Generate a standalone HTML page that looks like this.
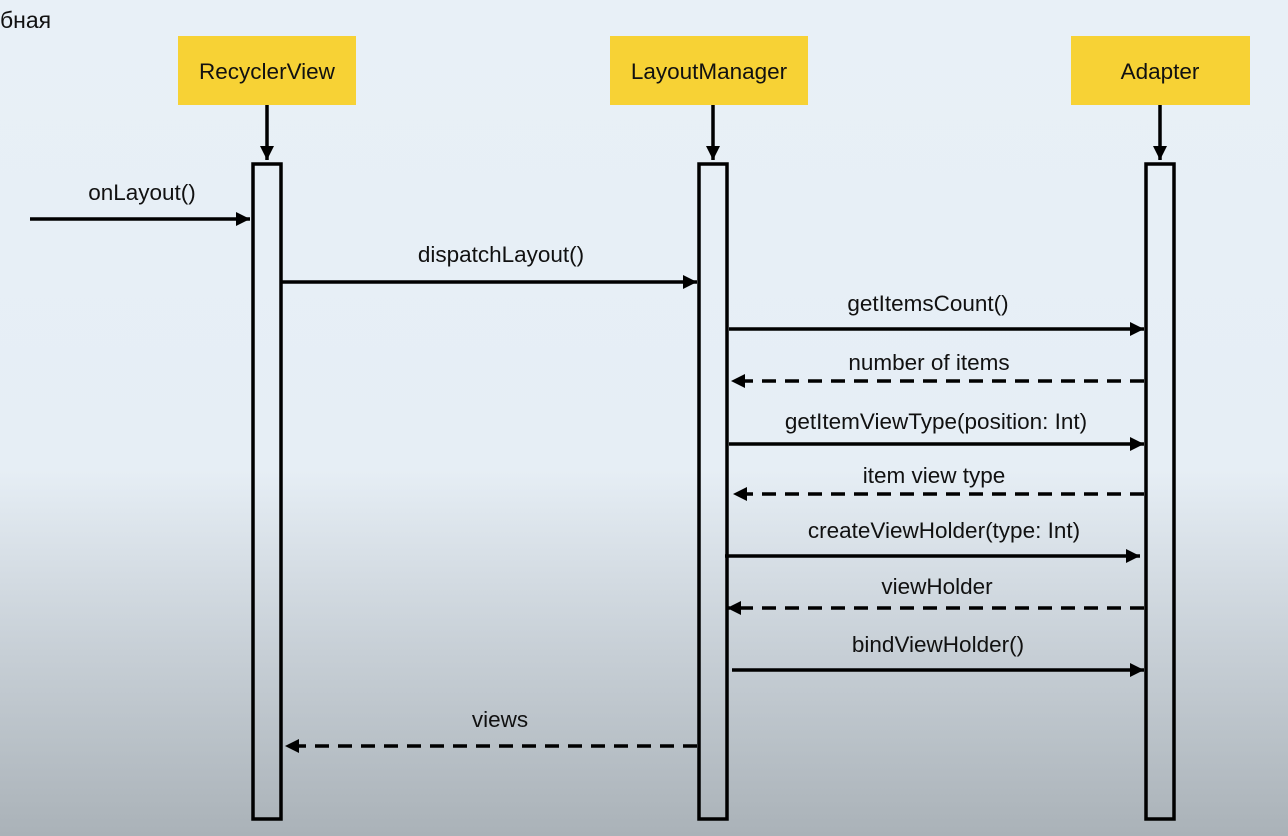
<!DOCTYPE html>
<html><head><meta charset="utf-8"><style>
html,body{margin:0;padding:0}
body{width:1288px;height:836px;overflow:hidden;background:linear-gradient(to bottom,#e8f0f7 0px,#e6eef5 470px,#c9d1d8 640px,#aab2b8 836px);font-family:"Liberation Sans","DejaVu Sans",sans-serif}
</style></head><body>
<svg width="1288" height="836" xmlns="http://www.w3.org/2000/svg" style="position:absolute;left:0;top:0">
<defs>
<marker id="a" viewBox="0 0 10 10" refX="10" refY="5" markerWidth="4" markerHeight="4" orient="auto-start-reverse" markerUnits="strokeWidth"><path d="M0,0L10,5L0,10z" fill="#000"/></marker>
</defs>
<g font-family="Liberation Sans, DejaVu Sans, sans-serif" font-size="22.5" fill="#111" text-anchor="middle">
<text x="0" y="28" text-anchor="start" font-size="23">бная</text>
<rect x="178" y="36" width="178" height="69" fill="#f7d235"/>
<rect x="610" y="36" width="198" height="69" fill="#f7d235"/>
<rect x="1071" y="36" width="179" height="69" fill="#f7d235"/>
<text x="267" y="79">RecyclerView</text>
<text x="709" y="79">LayoutManager</text>
<text x="1160" y="79">Adapter</text>
</g>
<g stroke="#000" stroke-width="3.5" fill="none">
<line x1="267" y1="105" x2="267" y2="160" marker-end="url(#a)"/>
<line x1="713" y1="105" x2="713" y2="160" marker-end="url(#a)"/>
<line x1="1160" y1="105" x2="1160" y2="160" marker-end="url(#a)"/>
<rect x="253" y="164" width="28" height="655"/>
<rect x="699" y="164" width="28" height="655"/>
<rect x="1146" y="164" width="28" height="655"/>
<line x1="30" y1="219" x2="250" y2="219" marker-end="url(#a)"/>
<line x1="282" y1="282" x2="697" y2="282" marker-end="url(#a)"/>
<line x1="729" y1="329" x2="1144" y2="329" marker-end="url(#a)"/>
<line x1="1144" y1="381" x2="731" y2="381" marker-end="url(#a)" stroke-dasharray="14,9"/>
<line x1="729" y1="444" x2="1144" y2="444" marker-end="url(#a)"/>
<line x1="1144" y1="494" x2="733" y2="494" marker-end="url(#a)" stroke-dasharray="14,9"/>
<line x1="725" y1="556" x2="1140" y2="556" marker-end="url(#a)"/>
<line x1="1144" y1="608" x2="727" y2="608" marker-end="url(#a)" stroke-dasharray="14,9"/>
<line x1="732" y1="670" x2="1144" y2="670" marker-end="url(#a)"/>
<line x1="697" y1="746" x2="285" y2="746" marker-end="url(#a)" stroke-dasharray="14,9"/>
</g>
<g font-family="Liberation Sans, DejaVu Sans, sans-serif" font-size="22.5" fill="#111" text-anchor="middle">
<text x="142" y="200">onLayout()</text>
<text x="501" y="262">dispatchLayout()</text>
<text x="928" y="311">getItemsCount()</text>
<text x="929" y="370">number of items</text>
<text x="936" y="429">getItemViewType(position: Int)</text>
<text x="934" y="483">item view type</text>
<text x="944" y="538">createViewHolder(type: Int)</text>
<text x="937" y="594">viewHolder</text>
<text x="938" y="652">bindViewHolder()</text>
<text x="500" y="727">views</text>
</g>
</svg>
</body></html>
